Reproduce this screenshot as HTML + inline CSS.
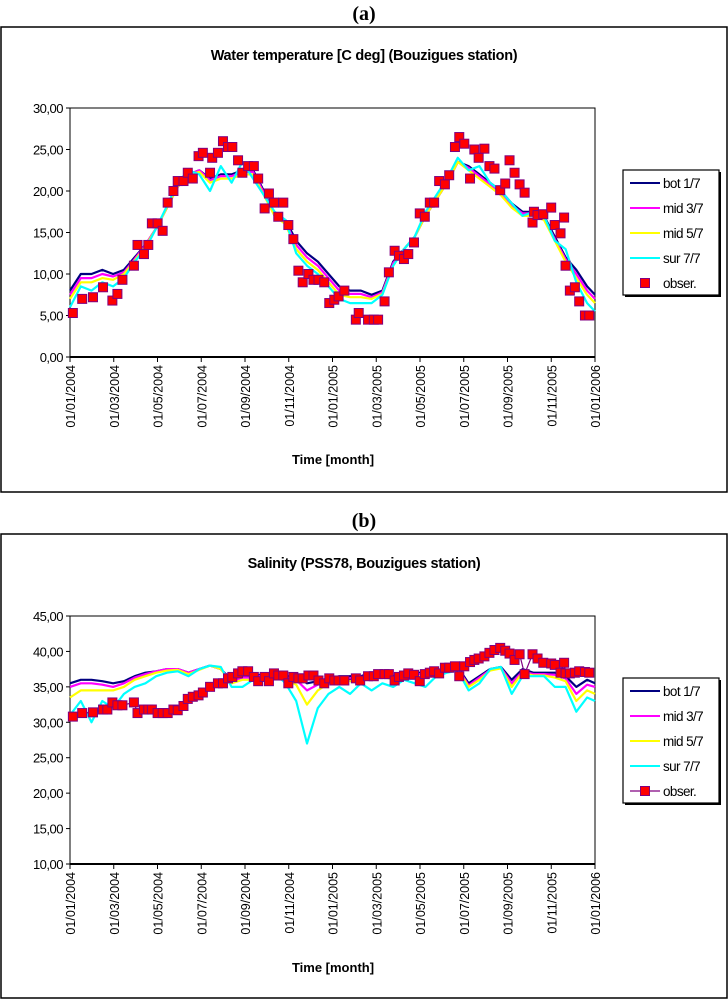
<!DOCTYPE html>
<html><head><meta charset="utf-8">
<style>
body{margin:0;background:#fff;width:728px;height:1000px;overflow:hidden;font-family:"Liberation Sans",Arial,sans-serif;}
svg{position:absolute;left:0;top:0}
</style></head>
<body>
<svg id="c" width="728" height="1000"></svg>
<script>
// ---- shared model output days ----
const modelDay=[0,15,30,45,60,75,90,105,120,135,150,165,180,195,210,225,240,255,270,285,300,315,330,345,360,375,390,405,420,435,450,465,480,495,510,525,540,555,570,585,600,615,630,645,660,675,690,705,720,731];
// ---- Temperature data ----
const tempBot=[8,10,10,10.5,10,10.5,12,13.5,15.5,18,20.5,22,22.5,21.5,22,22,22.5,22.5,20,17,16.5,14,12.5,11.5,10,8.5,8,8,7.5,8,11.5,13,14.5,17,19,21,23.5,23,22,21,20,18.5,17.5,17.5,17,14.5,12,10.5,8.5,7.5];
const tempMid3=[7.5,9.5,9.5,10,9.7,10.2,11.8,13.5,15.5,18,20.5,22,22.5,21.3,21.8,21.8,22.3,22.3,19.8,17,16.3,13.5,12,11,9.5,8,7.6,7.6,7.2,7.8,11.3,13,14.5,17,19,21,23.5,22.8,21.8,20.8,19.8,18.3,17.3,17.3,16.8,14.2,11.8,10,8,7];
const tempMid5=[7,9,9,9.5,9.3,10,11.6,13.3,15.5,18,20.5,22,22.3,21,21.5,21.5,22,22,19.5,17,16,13,11.5,10.5,9,7.5,7.2,7.2,7,7.6,11,13,14.5,17,19,21,23.5,22.5,21.5,20.5,19.5,18,17,17,16.5,14,11.5,9.5,7.5,6.5];
const tempSur=[6,8.5,8,9,8.5,9.5,11.5,13,15.5,18.2,21,22.5,22,20,23,21,23.5,21.5,19.5,17.5,16.5,12.5,11,10,8.5,7,6.5,6.5,6.5,7.5,11,13,14.5,17.5,19.5,21.5,24,22.5,23,21,20,18.5,17,17.5,17,14,13,9,6.5,5.5];
const tempObsDay=[4,17,32,46,59,66,73,89,94,103,109,114,122,129,136,144,150,158,164,171,179,185,195,198,206,213,220,226,234,240,248,256,262,271,277,284,290,297,304,311,318,324,332,339,346,354,361,368,374,382,398,402,415,423,429,438,444,452,458,465,471,479,487,494,501,507,514,522,528,536,542,549,557,563,569,577,584,591,599,606,612,619,626,633,644,646,651,659,670,675,683,688,690,696,703,709,717,723];
const tempObsVal=[5.3,7.0,7.2,8.4,6.8,7.6,9.3,11.0,13.5,12.4,13.5,16.1,16.1,15.2,18.6,20.0,21.2,21.2,22.2,21.5,24.2,24.6,22.2,24.0,24.6,26.0,25.3,25.3,23.7,22.2,23.0,23.0,21.5,17.9,19.7,18.6,16.9,18.6,15.9,14.2,10.4,9.0,10.0,9.3,9.3,9.0,6.5,6.9,7.3,8.0,4.5,5.3,4.5,4.5,4.5,6.7,10.2,12.8,12.2,11.8,12.4,13.8,17.3,16.9,18.6,18.6,21.2,20.8,21.9,25.3,26.5,25.7,21.5,25.0,24.0,25.1,23.0,22.7,20.1,20.9,23.7,22.2,20.8,19.8,16.2,17.5,17.1,17.2,18.0,15.9,14.9,16.8,11.0,8.0,8.4,6.7,5.0,5.0];
const tempTicks=["0,00","5,00","10,00","15,00","20,00","25,00","30,00"];
// ---- Salinity data ----
const salBot=[35.5,36,36,35.8,35.5,35.8,36.5,37,37.2,37.5,37.5,37,37.5,38,37.5,36,36.5,36.5,36.8,37,36.5,36.5,35.5,35.8,36.2,36.5,36.5,36.5,37,36.8,36.5,37,37,37,37.2,37.5,37.8,35.5,36.5,37.5,37.8,36,37.5,37,37,37,36.5,35,36,35.5];
const salMid3=[35,35.5,35.5,35.3,35,35.5,36.3,36.8,37.2,37.5,37.5,37,37.5,38,37.5,35.8,36.3,36.3,36.7,37,36.3,36,34.5,35.3,36,36.3,36.2,36.3,36.8,36.7,36.3,36.8,36.8,36.8,37,37.3,37.6,35.2,36.3,37.4,37.7,35.5,37.2,36.8,36.8,36.7,36.2,34,35.3,35];
const salMid5=[33.5,34.5,34.5,34.5,34.5,35,36,36.5,37,37.3,37.4,36.8,37.4,38,37.5,35.5,36,36,36.5,36.9,36,35.3,32.5,34.5,35.5,36,35.8,36,36.5,36.5,36,36.5,36.5,36.5,36.8,37.2,37.5,35,36,37.3,37.6,35,37,36.6,36.6,36.3,35.8,33,34.5,34];
const salSur=[31,33,30,33,32,34,35,35.5,36.5,37,37.2,36.5,37.5,38,37.8,35,35,36,36,37,35.5,33,27,32,34,35,34,35.5,34.5,35.5,35,36,35.5,35,36.5,37,37.3,34.5,35.5,37.5,37.8,34,36.5,36.5,36.5,35,35,31.5,33.5,33];
const salObsDay=[4,17,32,46,52,59,66,73,89,94,103,109,114,122,129,136,144,150,158,164,171,179,185,195,206,213,220,226,234,240,248,256,262,271,277,284,290,297,304,311,318,324,332,339,346,354,361,368,374,382,398,404,415,423,429,438,444,452,458,465,471,479,487,494,501,507,514,522,528,536,542,549,557,563,569,577,584,591,599,606,612,619,626,633,644,651,659,670,675,683,688,690,696,703,709,717,723];
const salObsVal=[30.8,31.3,31.4,31.8,31.8,32.8,32.4,32.4,32.8,31.3,31.8,31.8,31.8,31.3,31.3,31.3,31.8,31.7,32.3,33.3,33.6,33.8,34.2,35.0,35.5,35.5,36.2,36.4,36.9,37.2,37.2,36.4,35.8,36.4,35.8,36.9,36.6,36.6,35.5,36.4,36.2,36.2,36.6,36.6,35.9,35.5,36.2,35.9,35.9,35.9,36.2,35.9,36.5,36.5,36.8,36.8,36.8,35.9,36.4,36.6,36.9,36.7,35.8,36.8,37.0,37.2,36.9,37.7,37.7,37.9,36.5,37.9,38.5,38.8,39.0,39.3,39.8,40.2,40.5,40.1,39.7,38.8,39.6,36.8,39.6,39.0,38.4,38.3,38.1,37.0,38.4,36.9,36.9,37.0,37.2,37.1,37.0];
const salTicks=["10,00","15,00","20,00","25,00","30,00","35,00","40,00","45,00"];
const dateLabels=["01/01/2004","01/03/2004","01/05/2004","01/07/2004","01/09/2004","01/11/2004","01/01/2005","01/03/2005","01/05/2005","01/07/2005","01/09/2005","01/11/2005","01/01/2006"];

const NS="http://www.w3.org/2000/svg";
const svg=document.getElementById('c');
function mk(tag,attrs,parent){const e=document.createElementNS(NS,tag);for(const k in attrs)e.setAttribute(k,attrs[k]);(parent||svg).appendChild(e);return e;}
function txt(s,attrs,parent){const e=mk('text',attrs,parent);e.textContent=s;return e;}

function chart(o){
  const g=mk('g',{});
  
  
  const fr=mk('rect',{x:1,y:o.frameTop,width:726,height:o.frameBot-o.frameTop,fill:'#fff',stroke:'#000','stroke-width':1.5},g);
  
  const lab=txt(o.letter,{x:364,y:o.letterY,'text-anchor':'middle','font-family':'Liberation Serif,serif','font-weight':'bold','font-size':20},g);
  
  const t=txt(o.title,{x:364,y:o.titleY,'text-anchor':'middle','font-weight':'bold','font-size':14.5,'letter-spacing':'-0.3'},g);
  
  const X0=70,X1=595,Y0=o.y0,Y1=o.y1;
  const xs=d=>X0+d/731*(X1-X0);
  const ys=v=>Y0-(v-o.vmin)/(o.vmax-o.vmin)*(Y0-Y1);
  const pb=mk('rect',{x:X0,y:Y1,width:X1-X0,height:Y0-Y1,fill:'#fff',stroke:'#000','stroke-width':1},g);
  
  o.ticks.forEach((s,i)=>{const v=o.vmin+i*5;const y=ys(v);
    mk('line',{x1:X0-4,x2:X0,y1:y,y2:y,stroke:'#000'},g);
    const e=txt(s,{x:X0-7,y:y+5,'text-anchor':'end','font-size':13,'letter-spacing':'-0.5'},g);
    });
  dateLabels.forEach((s,i)=>{const x=X0+i*(X1-X0)/12;
    mk('line',{x1:x,x2:x,y1:Y0,y2:Y0+5,stroke:'#000'},g);
    const e=txt(s,{x:0,y:0,'text-anchor':'end','font-size':12.5,transform:`translate(${x+5},${Y0+8}) rotate(-90)`},g);
    });
  mk('line',{x1:X0,x2:X1,y1:Y0,y2:Y0,stroke:'#000','stroke-width':2},g);
  const xt=txt('Time [month]',{x:333,y:o.timeY,'text-anchor':'middle','font-weight':'bold','font-size':13},g);
  
  const cols=['#000080','#ff00ff','#ffff00','#00ffff'];
  const names=['series-bot','series-mid3','series-mid5','series-sur'];
  [o.bot,o.mid3,o.mid5,o.sur].forEach((arr,k)=>{
    const pts=arr.map((v,i)=>xs(modelDay[i]).toFixed(1)+','+ys(v).toFixed(1)).join(' ');
    const p=mk('polyline',{points:pts,fill:'none',stroke:cols[k],'stroke-width':2.2,'stroke-linejoin':'round'},g);
    
  });
  if(o.obsLine){
    const pts=o.obsDay.map((d,i)=>xs(d).toFixed(1)+','+ys(o.obsVal[i]).toFixed(1)).join(' ');
    const p=mk('polyline',{points:pts,fill:'none',stroke:'#800080','stroke-width':1.2},g);
    
  }
  o.obsDay.forEach((d,i)=>{
    const r=mk('rect',{x:xs(d)-4.5,y:ys(o.obsVal[i])-4.5,width:9,height:9,fill:'#ff0000',stroke:'#800080','stroke-width':1},g);
    
  });
  const lg=mk('g',{},g);
  
  mk('rect',{x:625,y:o.legTop+2,width:96,height:125,fill:'#000'},lg);
  mk('rect',{x:623,y:o.legTop,width:96,height:125,fill:'#fff',stroke:'#000','stroke-width':1.2},lg);
  const lbl=['bot 1/7','mid 3/7','mid 5/7','sur 7/7','obser.'];
  lbl.forEach((s,k)=>{const y=o.legTop+13+k*25;
    const it=mk('g',{},lg);
    
    if(k<4) mk('line',{x1:630,x2:660,y1:y,y2:y,stroke:cols[k],'stroke-width':2},it);
    else{ if(o.obsLine) mk('line',{x1:630,x2:660,y1:y,y2:y,stroke:'#800080','stroke-width':1.2},it);
      mk('rect',{x:640.5,y:y-4.5,width:9,height:9,fill:'#ff0000',stroke:'#800080'},it);}
    txt(s,{x:663,y:y+5,'font-size':13.5,'letter-spacing':'-0.6'},it);
  });
}
chart({name:'temperature-chart',letter:'(a)',letterY:20,frameTop:27,frameBot:492,title:'Water temperature [C deg] (Bouzigues station)',titleY:60,
  y0:357,y1:108,vmin:0,vmax:30,ticks:tempTicks,timeY:464,legTop:170,
  bot:tempBot,mid3:tempMid3,mid5:tempMid5,sur:tempSur,obsDay:tempObsDay,obsVal:tempObsVal,obsLine:false});
chart({name:'salinity-chart',letter:'(b)',letterY:527,frameTop:534,frameBot:998,title:'Salinity  (PSS78, Bouzigues station)',titleY:568,
  y0:864,y1:616,vmin:10,vmax:45,ticks:salTicks,timeY:972,legTop:678,
  bot:salBot,mid3:salMid3,mid5:salMid5,sur:salSur,obsDay:salObsDay,obsVal:salObsVal,obsLine:true});
</script>
</body></html>
